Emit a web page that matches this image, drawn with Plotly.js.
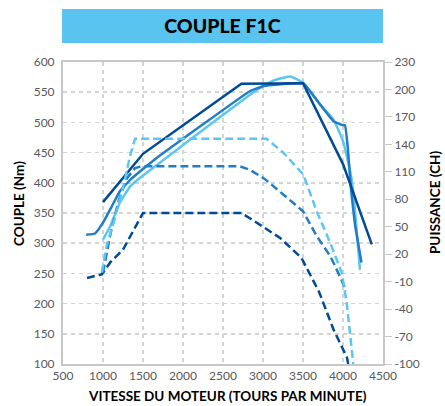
<!DOCTYPE html>
<html>
<head>
<meta charset="utf-8">
<script src="https://cdn.plot.ly/plotly-3.0.1.min.js"></script>
<style>
html,body{margin:0;padding:0;background:#fff;}
#chart{width:445px;height:406px;}
</style>
</head>
<body>
<div id="chart"></div>
<script>
// ---- Data ----
// Torque curves (Nm, left axis)
const coupleDarkRpm = [1000, 1500, 2730, 3500, 4000, 4180, 4360];
const coupleDarkNm  = [368, 448, 564, 565, 431, 366, 298];

const coupleMidRpm = [790, 900, 1000, 1110, 1210, 1340, 1650, 2840, 3000, 3500, 3700, 3880, 3985, 4025, 4062, 4100, 4150, 4231];
const coupleMidNm  = [314, 316, 334, 361, 386, 405, 439, 552, 560, 565, 532, 502, 496, 495, 455, 389, 331, 268];

const coupleLightRpm = [1000, 1090, 1210, 1340, 1460, 2840, 3000, 3170, 3340, 3500, 3710, 3880, 4000, 4090, 4130, 4212];
const coupleLightNm  = [306, 328, 367, 394, 408, 546, 560, 571, 576, 566, 530, 505, 469, 419, 383, 256];

// Power curves (CH, right axis)
const puissDarkRpm = [800, 985, 1090, 1250, 1500, 2730, 2840, 3210, 3480, 3700, 3880, 4050, 4065];
const puissDarkCh  = [-6, -2, 11, 25, 65, 65, 59, 38, 16, -21, -62, -93, -100];

const puissMidRpm = [1000, 1100, 1200, 1300, 1400, 1480, 2710, 2840, 3025, 3250, 3500, 3670, 3840, 3960, 4040];
const puissMidCh  = [0, 45, 80, 103, 114, 116, 116, 112, 102, 85, 67, 40, 18, -4, -20];

const puissLightRpm = [985, 1046, 1130, 1255, 1337, 1400, 3046, 3254, 3504, 3671, 3837, 3984, 4046, 4087, 4129];
const puissLightCh  = [0, 29, 54, 94, 127, 146, 146, 131, 107, 67, 33, 0, -33, -66, -100];

// Axis tick values
const xTicks = [500, 1000, 1500, 2000, 2500, 3000, 3500, 4000, 4500];
const yTicks = [100, 150, 200, 250, 300, 350, 400, 450, 500, 550, 600];
const y2Ticks = [-100, -70, -40, -10, 20, 50, 80, 110, 140, 170, 200, 230];

// ---- Styling ----
const DARK = 'rgb(0,74,150)';
const MID = 'rgb(33,125,198)';
const LIGHT = 'rgb(92,198,242)';
const DASH = '8px,4px';
const FONT = 'Lato, "Open Sans", sans-serif';

const traces = [
  {x: puissDarkRpm, y: puissDarkCh, yaxis: 'y2', mode: 'lines', line: {color: DARK, width: 2.5, dash: DASH}},
  {x: puissMidRpm, y: puissMidCh, yaxis: 'y2', mode: 'lines', line: {color: MID, width: 2.5, dash: DASH}},
  {x: puissLightRpm, y: puissLightCh, yaxis: 'y2', mode: 'lines', line: {color: LIGHT, width: 2.5, dash: DASH}},
  {x: coupleLightRpm, y: coupleLightNm, mode: 'lines', line: {color: LIGHT, width: 2.5, shape: 'spline', smoothing: 0.4}},
  {x: coupleMidRpm, y: coupleMidNm, mode: 'lines', line: {color: MID, width: 2.5, shape: 'spline', smoothing: 0.3}},
  {x: coupleDarkRpm, y: coupleDarkNm, mode: 'lines', line: {color: DARK, width: 2.5}}
];

const tickFont = {family: FONT, size: 12, color: 'rgb(89,89,89)'};
const titleFont = {family: FONT, size: 13.5, color: '#000', weight: 'bold'};

const layout = {
  width: 445, height: 406,
  margin: {l: 63, r: 62, t: 62, b: 42, pad: 0},
  paper_bgcolor: '#fff', plot_bgcolor: '#fff',
  showlegend: false,
  title: {
    text: 'COUPLE F1C',
    font: {family: FONT, size: 19.5, color: '#000', weight: 900},
    x: 0.5, xref: 'container', xanchor: 'center',
    y: 1 - 26/406, yref: 'container', yanchor: 'middle'
  },
  shapes: [{
    type: 'rect', xref: 'paper', yref: 'paper',
    x0: -0.003, x1: 1.0, y0: (406 - 42 - 43) / 302, y1: (406 - 42 - 9) / 302,
    fillcolor: 'rgb(90,196,240)', line: {width: 0}, layer: 'below'
  }],
  xaxis: {
    range: [500, 4500], tickvals: xTicks, ticktext: xTicks.map(String),
    showgrid: true, gridcolor: 'rgb(212,212,212)', griddash: '4px,4px', gridwidth: 1.5,
    showline: true, linecolor: 'rgb(200,200,200)', linewidth: 2, mirror: true,
    zeroline: false, ticks: '', tickfont: tickFont, fixedrange: true
  },
  yaxis: {
    range: [100, 600], tickvals: yTicks, ticktext: yTicks.map(String),
    showgrid: true, gridcolor: 'rgb(212,212,212)', griddash: '4px,4px', gridwidth: 1.5,
    showline: true, linecolor: 'rgb(200,200,200)', linewidth: 2,
    zeroline: false, ticks: '', ticklabelstandoff: 4, tickfont: tickFont
  },
  yaxis2: {
    overlaying: 'y', side: 'right',
    range: [-100, 230], tickvals: y2Ticks, ticktext: y2Ticks.map(String),
    showgrid: false, zeroline: false,
    showline: true, linecolor: 'rgb(200,200,200)', linewidth: 2,
    ticks: 'outside', ticklen: 7, tickcolor: 'rgb(200,200,200)', tickwidth: 1,
    tickfont: tickFont
  },
  annotations: [
    {text: 'VITESSE DU MOTEUR (TOURS PAR MINUTE)', xref: 'paper', yref: 'paper',
     x: (227 - 63) / 320, y: -(396 - 364) / 302, xanchor: 'center', yanchor: 'middle',
     showarrow: false, font: titleFont},
    {text: 'COUPLE (Nm)', xref: 'paper', yref: 'paper', textangle: -90,
     x: -(63 - 19) / 320, y: (364 - 204) / 302, xanchor: 'center', yanchor: 'middle',
     showarrow: false, font: titleFont},
    {text: 'PUISSANCE (CH)', xref: 'paper', yref: 'paper', textangle: -90,
     x: 1 + (435 - 383) / 320, y: (364 - 202) / 302, xanchor: 'center', yanchor: 'middle',
     showarrow: false, font: titleFont}
  ]
};

Plotly.newPlot('chart', traces, layout, {displayModeBar: false, staticPlot: true});
</script>
</body>
</html>
